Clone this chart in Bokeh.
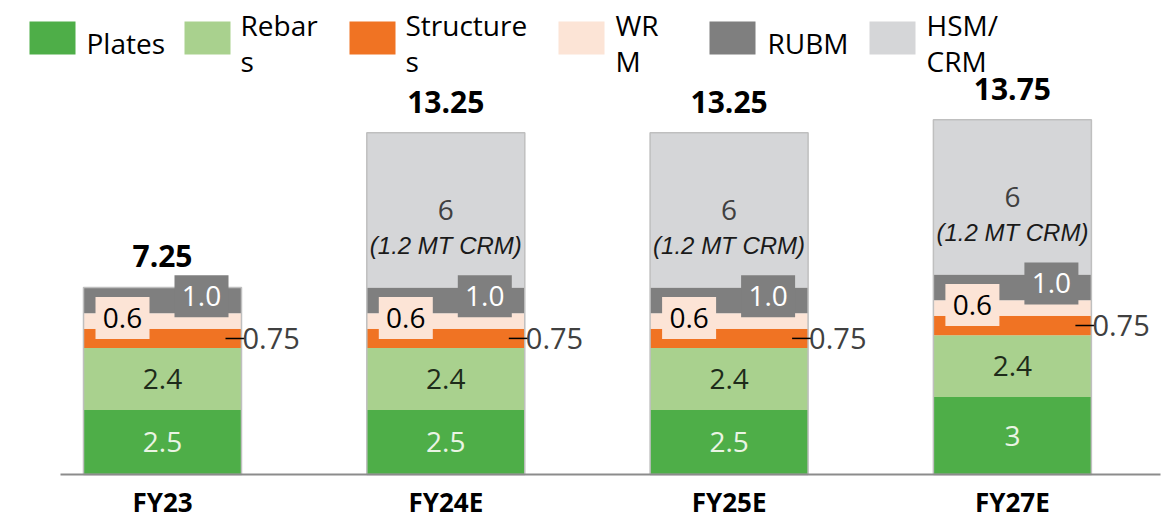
from bokeh.plotting import figure
from bokeh.models import Range1d
from bokeh.core.properties import value
from bokeh.embed import file_html
from bokeh.resources import INLINE

# ---------------- data ----------------
categories = ["FY23", "FY24E", "FY25E", "FY27E"]
series_names = ["Plates", "Rebars", "Structures", "WRM", "RUBM", "HSM/CRM"]
legend_labels = ["Plates", "Rebar\ns", "Structure\ns", "WR\nM", "RUBM", "HSM/\nCRM"]
plates = [2.5, 2.5, 2.5, 3.0]
rebars = [2.4, 2.4, 2.4, 2.4]
structures = [0.75, 0.75, 0.75, 0.75]
wrm = [0.6, 0.6, 0.6, 0.6]
rubm = [1.0, 1.0, 1.0, 1.0]
hsm_crm = [0.0, 6.0, 6.0, 6.0]
totals = [7.25, 13.25, 13.25, 13.75]
plates_text = ["2.5", "2.5", "2.5", "3"]
rebars_text = ["2.4", "2.4", "2.4", "2.4"]
structures_text = ["0.75", "0.75", "0.75", "0.75"]
wrm_text = ["0.6", "0.6", "0.6", "0.6"]
rubm_text = ["1.0", "1.0", "1.0", "1.0"]
hsm_text = ["", "6", "6", "6"]
hsm_note = ["", "(1.2 MT CRM)", "(1.2 MT CRM)", "(1.2 MT CRM)"]
totals_text = ["7.25", "13.25", "13.25", "13.75"]

colors = ["#4EAE48", "#A9D18E", "#F07323", "#FCE4D6", "#7F7F7F", "#D5D6D8"]

# ---------------- layout constants ----------------
W, H = 1166, 519          # figure = frame, placed at page (0, 0)
SX = 283.3                # px per x unit
SY = 25.8                 # px per y unit
CX0 = 162                 # page x of first category
BASE = 474                # page y of baseline
XS = -CX0 / SX
YE = BASE / SY
BW = 158 / SX
FONT = value("Open Sans")

def dx(px):
    return px / SX

def dy(px):
    return px / SY

def lx(page_x):
    return XS + page_x / SX

def ly(page_y):
    return YE - page_y / SY

xs = list(range(len(categories)))

p = figure(width=W, height=H,
           x_range=Range1d(XS, XS + W / SX),
           y_range=Range1d(YE - H / SY, YE),
           output_backend="svg", toolbar_location=None,
           x_axis_location=None, y_axis_location=None,
           min_border=0, min_border_left=0, min_border_right=0,
           min_border_top=0, min_border_bottom=0)
p.grid.visible = False
p.outline_line_color = None
p.background_fill_color = "white"
p.border_fill_color = "white"

# ---------------- stacked bars ----------------
series = [plates, rebars, structures, wrm, rubm, hsm_crm]
bottom = [0.0] * len(xs)
bounds = []
for vals, col in zip(series, colors):
    top = [b + v for b, v in zip(bottom, vals)]
    p.vbar(x=xs, bottom=bottom, top=top, width=BW, fill_color=col, line_color=None)
    bounds.append((list(bottom), top))
    bottom = top

p.vbar(x=xs, bottom=[0] * len(xs), top=totals, width=BW, fill_color=None,
       line_color="#BFBFBF", line_width=1.5)

# baseline (category axis line)
p.segment(x0=[lx(60)], y0=[0], x1=[lx(1160)], y1=[0], line_color="#8C8C8C", line_width=2)

# category labels
p.text(x=xs, y=[-dy(27)] * len(xs), text=categories, text_color="black", text_font=FONT,
       text_font_style="bold", text_font_size="26px", text_align="center",
       text_baseline="middle")

def mid(k):
    b, t = bounds[k]
    return [(bb + tt) / 2 for bb, tt in zip(b, t)]

# plates
p.text(x=xs, y=mid(0), text=plates_text, text_color="#EAF4E4", text_font=FONT,
       text_font_size="28px", text_align="center", text_baseline="middle")
# rebars
p.text(x=xs, y=mid(1), text=rebars_text, text_color="#1E2B1A", text_font=FONT,
       text_font_size="28px", text_align="center", text_baseline="middle")
# structures leader + label
right_edge = [x + BW / 2 for x in xs]
p.segment(x0=[r - dx(16) for r in right_edge], y0=mid(2),
          x1=[r + dx(3) for r in right_edge], y1=mid(2),
          line_color="black", line_width=1.5)
p.text(x=[r + dx(1) for r in right_edge], y=mid(2), text=structures_text,
       text_color="#404040", text_font=FONT, text_font_size="29px",
       text_align="left", text_baseline="middle")
# WRM boxed label
wx = [x - dx(40) for x in xs]
wy = [m + dy(3) for m in mid(3)]
p.rect(x=wx, y=wy, width=54, height=42, width_units="screen", height_units="screen",
       fill_color=colors[3], line_color=None)
p.text(x=wx, y=wy, text=wrm_text, text_color="black", text_font=FONT,
       text_font_size="28px", text_align="center", text_baseline="middle")
# RUBM boxed label
rx = [x + dx(39) for x in xs]
ry = [m + dy(4) for m in mid(4)]
p.rect(x=rx, y=ry, width=54, height=42, width_units="screen", height_units="screen",
       fill_color=colors[4], line_color=None)
p.text(x=rx, y=ry, text=rubm_text, text_color="white", text_font=FONT,
       text_font_size="28px", text_align="center", text_baseline="middle")
# HSM/CRM
p.text(x=xs, y=mid(5), text=hsm_text, text_color="#404040", text_font=FONT,
       text_font_size="28px", text_align="center", text_baseline="middle")
p.text(x=xs, y=[m - dy(35) for m in mid(5)], text=hsm_note, text_color="#1A1A1A",
       text_font=value("Liberation Sans"), text_font_style="italic",
       text_font_size="24px", text_align="center", text_baseline="middle")
# totals
p.text(x=xs, y=[t + dy(31) for t in totals], text=totals_text, text_color="black",
       text_font=FONT, text_font_style="bold", text_font_size="30px",
       text_align="center", text_baseline="middle")

# ---------------- legend (drawn manually) ----------------
sw_left = [29, 184, 349, 558, 709, 869]
txt_left = [86, 240, 405, 615, 767, 926]
for i, lab in enumerate(legend_labels):
    p.quad(left=[lx(sw_left[i])], right=[lx(sw_left[i] + 46)],
           top=[ly(21)], bottom=[ly(54)], fill_color=colors[i], line_color=None)
    lines = lab.split("\n")
    if len(lines) == 1:
        ys = [ly(42)]
    else:
        ys = [ly(24), ly(60)]
    p.text(x=[lx(txt_left[i])] * len(lines), y=ys, text=lines, text_color="black",
           text_font=FONT, text_font_size="28px", text_align="left",
           text_baseline="middle")

open("out.html", "w").write(file_html(p, INLINE))
